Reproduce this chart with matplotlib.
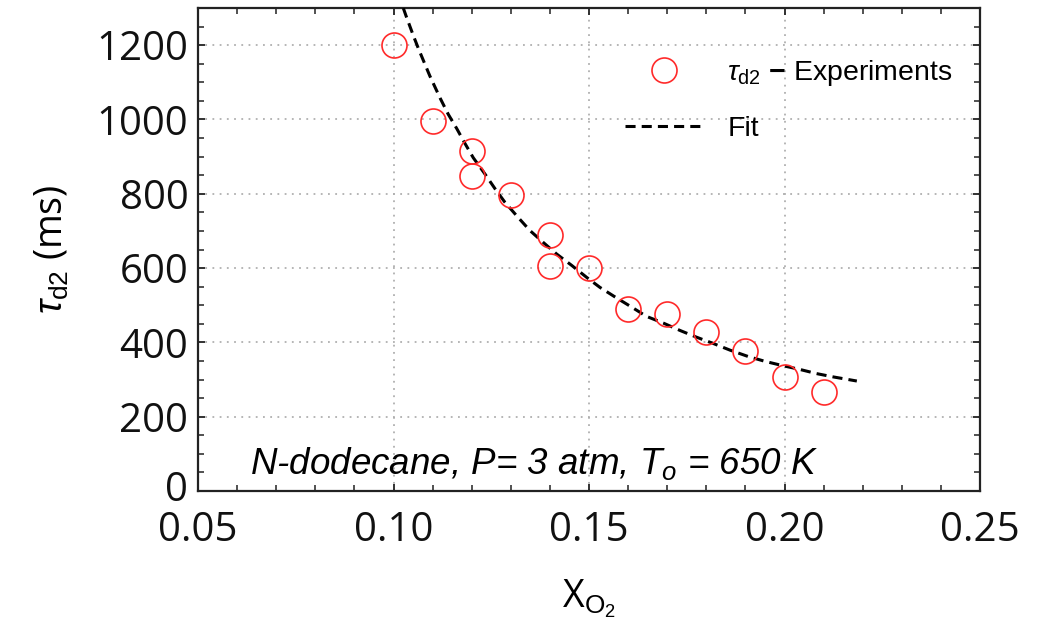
import matplotlib
matplotlib.use("Agg")
import matplotlib.pyplot as plt
import matplotlib.transforms as mtransforms
from matplotlib.ticker import MultipleLocator
from matplotlib.lines import Line2D

# Experimental data
x_exp = [0.10, 0.11, 0.12, 0.12, 0.13, 0.14, 0.14, 0.15, 0.16, 0.17, 0.18, 0.19, 0.20, 0.21]
tau_exp = [1200, 997, 916, 847, 796, 688, 605, 600, 490, 477, 428, 378, 307, 267]

# Fit curve
x_fit = [0.1025, 0.1032, 0.1051, 0.1064, 0.1093, 0.1119, 0.1140, 0.1162, 0.1183, 0.1204,
         0.1234, 0.1260, 0.1285, 0.1319, 0.1349, 0.1383, 0.1417, 0.1456, 0.1494, 0.1528,
         0.1567, 0.1609, 0.1647, 0.1690, 0.1733, 0.1775, 0.1818, 0.1861, 0.1907, 0.1950,
         0.1993, 0.2040, 0.2082, 0.2125, 0.2185]
tau_fit = [1300, 1279, 1225, 1190, 1117, 1058, 1014, 975, 935, 897,
           853, 813, 777, 736, 701, 669, 638, 607, 575, 548,
           522, 495, 470, 452, 432, 414, 397, 379, 362, 349,
           338, 327, 316, 307, 296]

xticks = [0.05, 0.10, 0.15, 0.20, 0.25]
xticklabels = ["0.05", "0.10", "0.15", "0.20", "0.25"]
yticks = [0, 200, 400, 600, 800, 1000, 1200]

plt.rcParams['mathtext.fontset'] = 'custom'
plt.rcParams['mathtext.rm'] = 'Liberation Sans'
plt.rcParams['mathtext.it'] = 'Liberation Sans:italic'
plt.rcParams['mathtext.bf'] = 'Liberation Sans:bold'

fig = plt.figure(figsize=(10.48, 6.29), dpi=100)
ax = fig.add_axes([198/1048, 1 - 491/629, 782/1048, 483/629])

ax.plot(x_fit, tau_fit, color='black', lw=2.2, dashes=(3.3, 2.0), zorder=3)
ax.plot(x_exp, tau_exp, linestyle='none', marker='o', markersize=18,
        markerfacecolor='none', markeredgecolor='#ff2a2a', markeredgewidth=1.2, zorder=4)

ax.set_xlim(0.05, 0.25)
ax.set_ylim(0, 1300)
ax.set_xticks(xticks)
ax.set_xticklabels(xticklabels)
ax.set_yticks(yticks)
ax.xaxis.set_minor_locator(MultipleLocator(0.01))
ax.yaxis.set_minor_locator(MultipleLocator(50))

ax.grid(True, which='major', color='#b0b0b0', linestyle=(0, (1, 3)), linewidth=1.3)
ax.set_axisbelow(True)

for s in ax.spines.values():
    s.set_linewidth(1.6)
    s.set_color('#222222')

ax.tick_params(which='both', direction='in', top=True, right=True, color='#222222')
ax.tick_params(which='major', length=5, width=1.3)
ax.tick_params(which='minor', length=4, width=1.1)
ax.tick_params(axis='y', which='major', pad=7)
ax.tick_params(axis='x', which='major', pad=14)
for lab in ax.get_xticklabels() + ax.get_yticklabels():
    lab.set_fontfamily('Open Sans')
    lab.set_fontsize(29)
    lab.set_color('#111111')

# lift the "0" label slightly so it clears the "0.05" label below it
zero_lab = ax.yaxis.get_major_ticks()[0].label1
zero_lab.set_transform(zero_lab.get_transform() +
                       mtransforms.ScaledTranslation(0, 4 / 72, fig.dpi_scale_trans))

ax.set_ylabel(r"$\tau_{\mathrm{d2}}$ (ms)", fontfamily='Open Sans', fontsize=27, labelpad=18)
ax.set_xlabel(r"X$_{\mathrm{O_2}}$", fontfamily='Open Sans', fontsize=27, labelpad=19)

ax.text(0.0665, 0.036, r"N-dodecane, P= 3 atm, $T_o$ = 650 K", transform=ax.transAxes,
        fontfamily='Liberation Sans', fontstyle='italic', fontsize=26.5, ha='left', va='baseline')

handles = [Line2D([], [], linestyle='none', marker='o', markersize=18, markerfacecolor='none',
                  markeredgecolor='#ff2a2a', markeredgewidth=1.2),
           Line2D([], [], color='black', lw=2.2, dashes=(3.3, 2.0))]
labels = [r"$\tau_{\mathrm{d2}}$ $\mathbf{-}$ Experiments", "Fit"]
leg = ax.legend(handles, labels, loc='upper left', bbox_to_anchor=(0.546, 0.897),
                frameon=False, borderpad=0, borderaxespad=0, handlelength=2.75,
                handletextpad=0.85, labelspacing=1.0,
                prop={'family': 'Liberation Sans', 'size': 20.5})

fig.savefig("out.png", dpi=100)
